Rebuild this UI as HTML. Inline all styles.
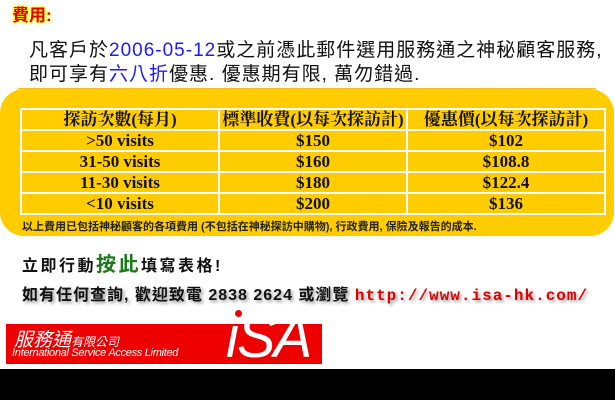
<!DOCTYPE html>
<html><head><meta charset="utf-8"><style>
body{margin:0;width:615px;height:400px;background:#fff;position:relative;overflow:hidden;font-family:"Liberation Sans","Noto Sans CJK TC",sans-serif}
.a{position:absolute;white-space:nowrap}
table{border-collapse:collapse;position:absolute;left:20px;top:108px;width:586px;font-family:"Liberation Serif","Noto Serif CJK TC",serif;font-size:17px;font-weight:bold;color:#111}
td{border:2px solid #fff;height:19px;text-align:center;padding:0;line-height:19px}
</style></head><body>
<div class="a" style="left:12px;top:1px;font-size:17px;font-weight:bold;color:#e00000;text-shadow:0 0 3px #ff0,0 0 3px #ff0,0 0 2px #ff0">費用:</div>
<div class="a" style="left:29px;top:35px;font-size:19px;letter-spacing:1px;color:#111">凡客戶於<span style="color:#1a1aff">2006-05-12</span>或之前憑此郵件選用服務通之神秘顧客服務,</div>
<div class="a" style="left:29px;top:59px;font-size:19px;letter-spacing:1px;color:#111">即可享有<span style="color:#1a1aff">六八折</span>優惠. 優惠期有限, 萬勿錯過.</div>
<div class="a" style="left:18px;top:88px;width:578px;height:1px;background:#f0c020"></div>
<div class="a" style="left:0;top:89px;width:614px;height:147px;background:#fc0;border-radius:24px"></div>
<table>
<tr><td style="width:196px">探訪次數(每月)</td><td style="width:186px">標準收費(以每次探訪計)</td><td>優惠價(以每次探訪計)</td></tr>
<tr><td>&gt;50 visits</td><td>$150</td><td>$102</td></tr>
<tr><td>31-50 visits</td><td>$160</td><td>$108.8</td></tr>
<tr><td>11-30 visits</td><td>$180</td><td>$122.4</td></tr>
<tr><td>&lt;10 visits</td><td>$200</td><td>$136</td></tr>
</table>
<div class="a" style="left:22px;top:218px;font-size:11px;font-weight:bold;color:#222">以上費用已包括神秘顧客的各項費用 (不包括在神秘探訪中購物), 行政費用, 保險及報告的成本.</div>
<div class="a" style="left:22px;top:248px;font-size:16px;font-weight:bold;letter-spacing:2.5px;color:#111">立即行動<span style="color:#1a7a1a;font-size:20px">按此</span>填寫表格!</div>
<div class="a" style="left:22px;top:281px;font-size:16px;font-weight:bold;letter-spacing:1px;color:#111;text-shadow:2px 2px 3px #999">如有任何查詢, 歡迎致電 2838 2624 或瀏覽 <span style="color:#e00000;font-family:'Liberation Mono',monospace">http://www.isa-hk.com/</span></div>
<div class="a" style="left:6px;top:324px;width:316px;height:40px;background:#ee0000">
<div class="a" style="left:8px;top:1px;color:#fff;font-size:19px;font-style:italic">服務通<span style="font-size:12px">有限公司</span></div>
<div class="a" style="left:6px;top:23px;color:#fff;font-size:11px;font-style:italic;letter-spacing:-0.3px">International Service Access Limited</div>
<div class="a" style="left:220px;top:-14px;color:#fff;font-size:58px;font-style:italic;line-height:56px;letter-spacing:-2px">iSA</div>
</div>
<div class="a" style="left:235px;top:310px;width:7px;height:7px;border-radius:50%;background:#ee0000"></div>
<div class="a" style="left:0;top:369px;width:615px;height:31px;background:#000"></div>
</body></html>
